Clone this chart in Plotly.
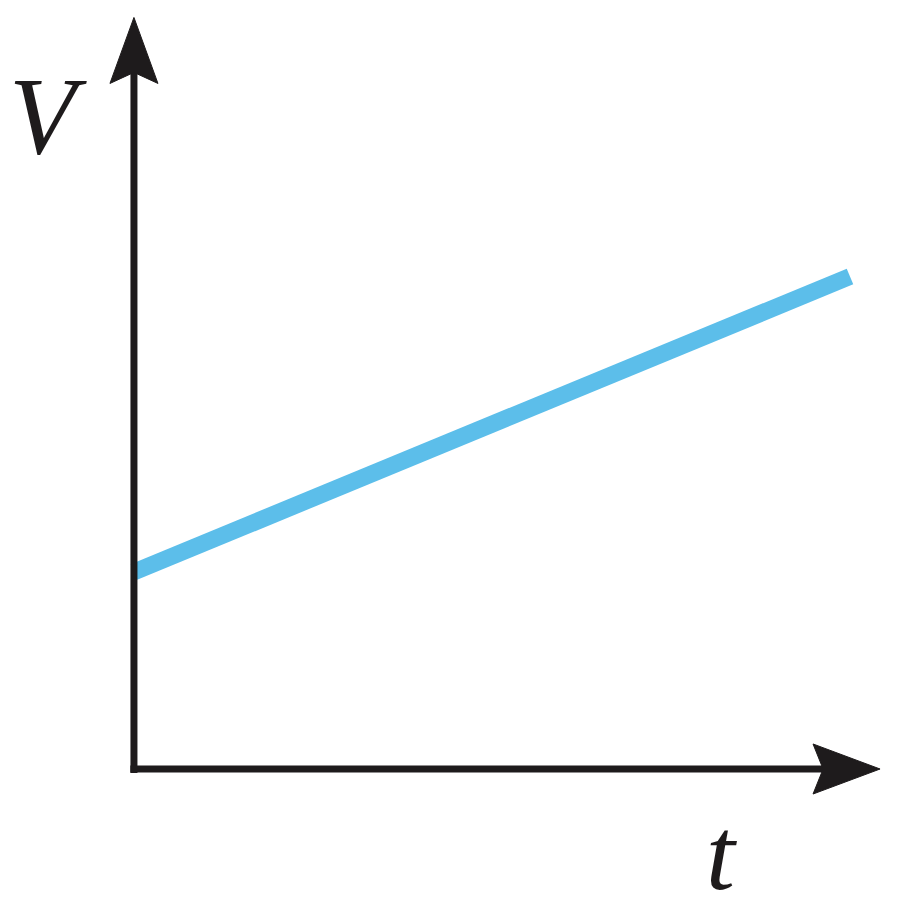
import plotly.graph_objects as go

# Data (arbitrary units)
t_values = [0.0, 10.0]
V_values = [2.0, 5.0]

# Axis extents (data units) and labels
T_AXIS_END = 10.42
V_AXIS_END = 7.63
x_label = "t"
y_label = "V"

# Visible window
T_RANGE = [-1.759, 10.866]
V_RANGE = [-1.533, 7.726]

AXIS_COLOR = "#1e1b1c"
LINE_COLOR = "rgb(92,190,234)"

fig = go.Figure()

# Blue line
fig.add_trace(go.Scatter(x=t_values, y=V_values, mode="lines",
                         line=dict(color=LINE_COLOR, width=17),
                         hoverinfo="skip", showlegend=False))

# Vertical axis line
up_len, up_notch, up_half = 0.670, 0.558, 0.335
fig.add_trace(go.Scatter(x=[0, 0], y=[-0.04, V_AXIS_END - up_notch + 0.02], mode="lines",
                         line=dict(color=AXIS_COLOR, width=7),
                         hoverinfo="skip", showlegend=False))
# Horizontal axis line
rt_len, rt_notch, rt_half = 0.936, 0.796, 0.254
fig.add_trace(go.Scatter(x=[-0.05, T_AXIS_END - rt_notch + 0.02], y=[0, 0], mode="lines",
                         line=dict(color=AXIS_COLOR, width=7),
                         hoverinfo="skip", showlegend=False))

# Arrowheads
fig.add_trace(go.Scatter(
    x=[0, up_half, 0, -up_half, 0],
    y=[V_AXIS_END, V_AXIS_END - up_len, V_AXIS_END - up_notch, V_AXIS_END - up_len, V_AXIS_END],
    mode="lines", fill="toself", fillcolor=AXIS_COLOR,
    line=dict(color=AXIS_COLOR, width=1), hoverinfo="skip", showlegend=False))
fig.add_trace(go.Scatter(
    x=[T_AXIS_END, T_AXIS_END - rt_len, T_AXIS_END - rt_notch, T_AXIS_END - rt_len, T_AXIS_END],
    y=[0, rt_half, 0, -rt_half, 0],
    mode="lines", fill="toself", fillcolor=AXIS_COLOR,
    line=dict(color=AXIS_COLOR, width=1), hoverinfo="skip", showlegend=False))

fig.add_annotation(x=-1.194, y=6.63, text=f"<i>{y_label}</i>", showarrow=False,
                   xanchor="center", yanchor="middle",
                   font=dict(family="Liberation Serif", size=110, color=AXIS_COLOR))
fig.add_annotation(x=8.21, y=-0.853, text=f"<i>{x_label}</i>", showarrow=False,
                   xanchor="center", yanchor="middle",
                   font=dict(family="Liberation Serif", size=104, color=AXIS_COLOR))

fig.update_layout(
    width=904, height=912,
    margin=dict(l=0, r=0, t=0, b=0),
    paper_bgcolor="white", plot_bgcolor="white",
    xaxis=dict(range=T_RANGE, visible=False, fixedrange=True),
    yaxis=dict(range=V_RANGE, visible=False, fixedrange=True),
)

fig.write_html("out.html")
